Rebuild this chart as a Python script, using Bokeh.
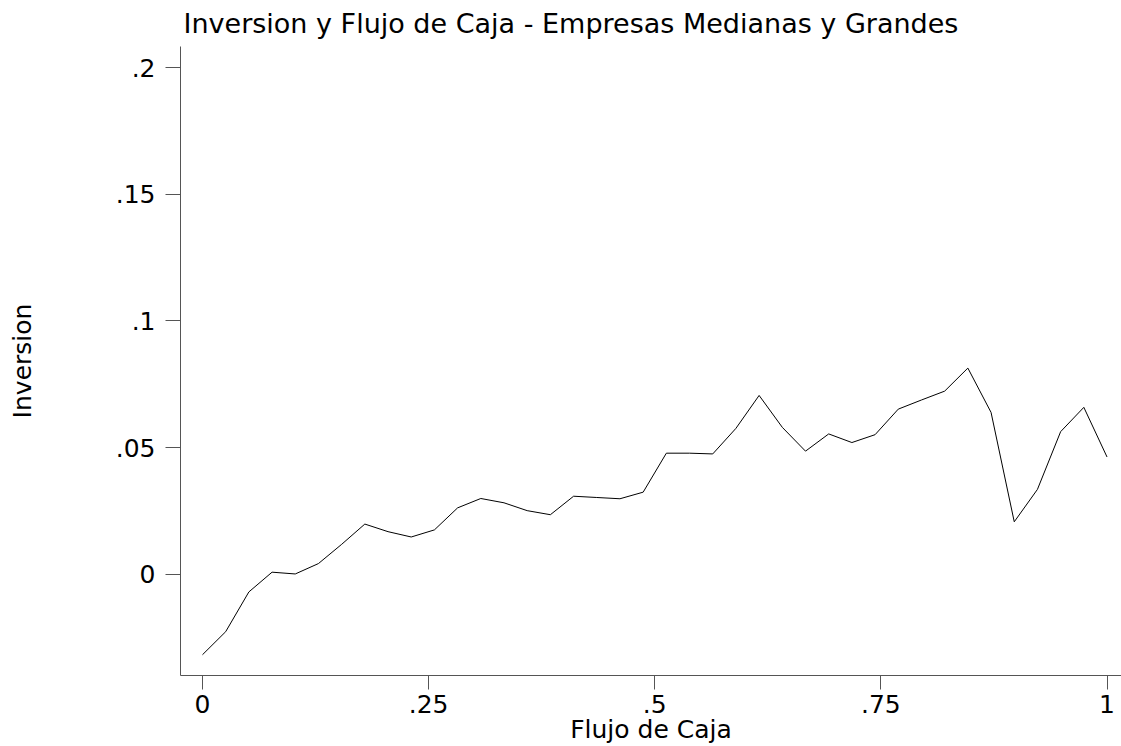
from bokeh.plotting import figure
from bokeh.models import Range1d, FixedTicker
from bokeh.embed import file_html
from bokeh.resources import INLINE

# Data
flujo_caja = [0.0, 0.02564, 0.05128, 0.07692, 0.10256, 0.12821, 0.15385, 0.17949,
              0.20513, 0.23077, 0.25641, 0.28205, 0.30769, 0.33333, 0.35897, 0.38462,
              0.41026, 0.43590, 0.46154, 0.48718, 0.51282, 0.53846, 0.56410, 0.58974,
              0.61538, 0.64103, 0.66667, 0.69231, 0.71795, 0.74359, 0.76923, 0.79487,
              0.82051, 0.84615, 0.87179, 0.89744, 0.92308, 0.94872, 0.97436, 1.0]
inversion = [-0.0318, -0.0227, -0.0070, 0.0008, 0.0001, 0.0042, 0.0118, 0.0198,
             0.0168, 0.0147, 0.0175, 0.0262, 0.0299, 0.0282, 0.0251, 0.0235,
             0.0308, 0.0303, 0.0298, 0.0324, 0.0478, 0.0478, 0.0475, 0.0576,
             0.0706, 0.0580, 0.0486, 0.0554, 0.0520, 0.0551, 0.0652, 0.0688,
             0.0723, 0.0814, 0.0639, 0.0207, 0.0335, 0.0563, 0.0659, 0.0463]

x_ticks = [0, 0.25, 0.5, 0.75, 1]
x_tick_labels = ["0", ".25", ".5", ".75", "1"]
y_ticks = [0, 0.05, 0.1, 0.15, 0.2]
y_tick_labels = ["0", ".05", ".1", ".15", ".2"]

title_text = "Inversion y Flujo de Caja - Empresas Medianas y Grandes"
x_label = "Flujo de Caja"
y_label = "Inversion"

FONT = "DejaVu Sans"
FS = "25px"

p = figure(width=1121, height=746, output_backend="svg", toolbar_location=None,
           x_range=Range1d(-0.0243, 1.0160), y_range=Range1d(-0.0400, 0.2084),
           min_border_left=180, min_border_right=0, min_border_top=46,
           min_border_bottom=70, title=title_text)
p.outline_line_color = None
p.background_fill_color = "white"
p.border_fill_color = "white"
p.xgrid.visible = False
p.ygrid.visible = False

p.title.text_font = FONT
p.title.text_font_size = "27px"
p.title.text_font_style = "normal"
p.title.text_color = "black"
p.title.align = "left"
p.title.vertical_align = "top"
p.title.offset = 3
p.title.standoff = 12

p.line(flujo_caja, inversion, line_color="black", line_width=1)

for ax, ticks, labels in ((p.xaxis[0], x_ticks, x_tick_labels), (p.yaxis[0], y_ticks, y_tick_labels)):
    ax.ticker = FixedTicker(ticks=ticks)
    ax.major_label_overrides = {t: l for t, l in zip(ticks, labels)}
    ax.minor_tick_line_color = None
    ax.major_tick_in = 0
    ax.axis_line_color = "#555555"
    ax.major_tick_line_color = "#555555"
    ax.major_label_text_font = FONT
    ax.major_label_text_font_size = FS
    ax.major_label_text_color = "black"
    ax.axis_label_text_font = FONT
    ax.axis_label_text_font_size = FS
    ax.axis_label_text_font_style = "normal"
    ax.axis_label_text_color = "black"

p.xaxis.axis_label = x_label
p.xaxis.major_tick_out = 14
p.xaxis.major_label_standoff = 5
p.xaxis.axis_label_standoff = -1

p.yaxis.axis_label = y_label
p.yaxis.major_tick_out = 15
p.yaxis.major_label_standoff = 10
p.yaxis.major_label_orientation = "horizontal"
p.yaxis.axis_label_standoff = 76

open("out.html", "w").write(file_html(p, INLINE))
